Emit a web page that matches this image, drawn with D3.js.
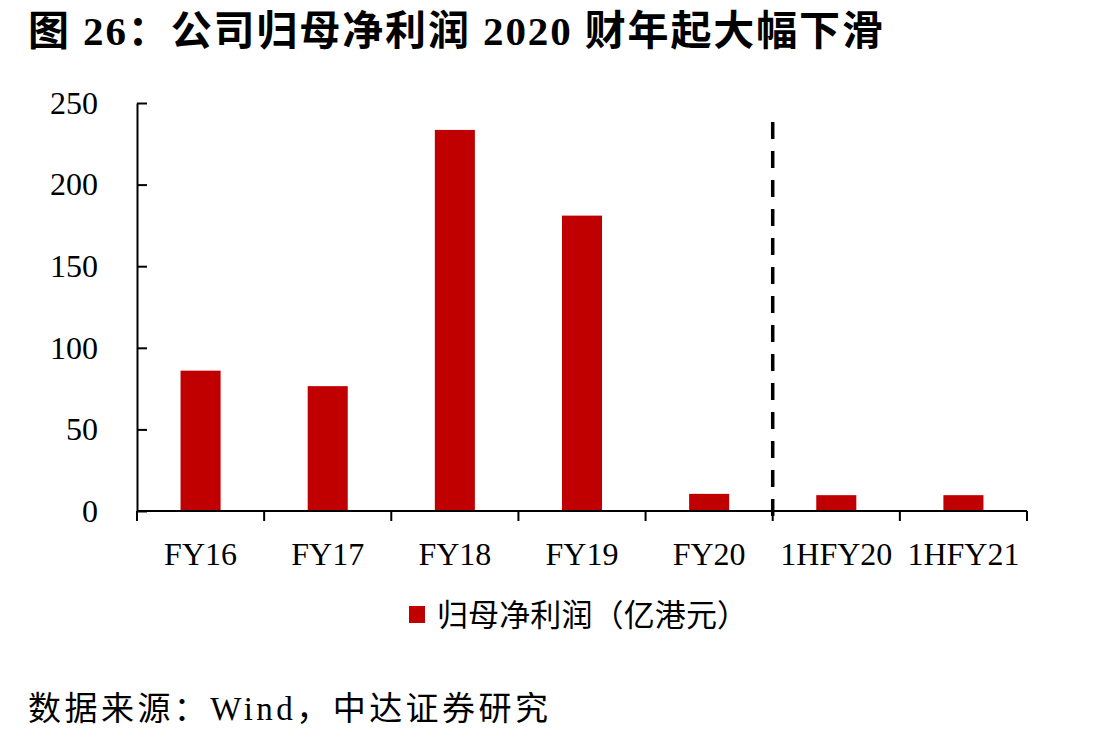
<!DOCTYPE html>
<html>
<head>
<meta charset="utf-8">
<script src="https://cdn.jsdelivr.net/npm/d3@7"></script>
<style>
	body { margin: 0; background: #fff; }
	svg { display: block; }
	.serif { font-family: "Liberation Serif", "Noto Sans CJK SC", serif; }
</style>
</head>
<body>
<svg id="canvas" width="1110" height="739"></svg>
<script>
// data
const categories = ["FY16", "FY17", "FY18", "FY19", "FY20", "1HFY20", "1HFY21"];
const profit = [86, 76.5, 233.5, 181, 10.5, 9.7, 9.7];
const yTicks = [0, 50, 100, 150, 200, 250];
const seriesName = "归母净利润（亿港元）";
const titleText = "图 26：公司归母净利润 2020 财年起大幅下滑";
const sourceText = "数据来源：Wind，中达证券研究";

const red = "#C00000";

const svg = d3.select("#canvas");

const plotLeft = 137, plotRight = 1027, plotTop = 103, plotBottom = 511;

const y = d3.scaleLinear().domain([0, 250]).range([plotBottom, plotTop]);
const x = d3.scaleBand()
	.domain(categories)
	.range([plotLeft, plotRight])
	.paddingInner(0.685)
	.paddingOuter(0.3425);
const step = x.step();

// title (textLength to match the wider spacing of the original font)
svg.append("text")
	.attr("class", "serif")
	.attr("x", 28)
	.attr("y", 45)
	.attr("font-size", 41)
	.attr("font-weight", "bold")
	.attr("textLength", 855)
	.attr("lengthAdjust", "spacing")
	.text(titleText);

// bars
svg.selectAll(".bar")
	.data(profit)
	.enter().append("rect")
	.attr("class", "bar")
	.attr("x", (d, i) => x(categories[i]))
	.attr("width", x.bandwidth())
	.attr("y", d => y(d))
	.attr("height", d => y(0) - y(d))
	.attr("fill", red);

// y axis, ticks pointing inward
const yAxis = svg.append("g")
	.attr("transform", "translate(" + plotLeft + ",0)")
	.call(d3.axisLeft(y).tickValues(yTicks).tickSize(-10).tickSizeOuter(0).tickPadding(39));
yAxis.selectAll("line").attr("stroke", "#000").attr("stroke-width", 2);
yAxis.select(".domain").attr("stroke", "#000").attr("stroke-width", 2);
yAxis.selectAll("text")
	.attr("class", "serif")
	.attr("font-size", 32)
	.attr("fill", "#000");

// x axis line + boundary ticks
svg.append("line")
	.attr("x1", plotLeft).attr("x2", plotRight)
	.attr("y1", y(0)).attr("y2", y(0))
	.attr("stroke", "#000").attr("stroke-width", 2);

svg.selectAll(".xtick")
	.data(d3.range(categories.length + 1))
	.enter().append("line")
	.attr("class", "xtick")
	.attr("x1", i => plotLeft + i * step).attr("x2", i => plotLeft + i * step)
	.attr("y1", y(0)).attr("y2", y(0) + 10)
	.attr("stroke", "#000").attr("stroke-width", 2);

svg.selectAll(".xlabel")
	.data(categories)
	.enter().append("text")
	.attr("class", "serif xlabel")
	.attr("x", d => x(d) + x.bandwidth() / 2)
	.attr("y", 565)
	.attr("text-anchor", "middle")
	.attr("font-size", 32)
	.text(d => d);

// dashed separator between annual and half-year figures
const sepX = plotLeft + categories.indexOf("1HFY20") * step;
svg.append("line")
	.attr("x1", sepX).attr("x2", sepX)
	.attr("y1", 122).attr("y2", 520)
	.attr("stroke", "#000")
	.attr("stroke-width", 3.5)
	.attr("stroke-dasharray", "17,12");

// legend
svg.append("rect")
	.attr("x", 409).attr("y", 606)
	.attr("width", 16).attr("height", 17)
	.attr("fill", red);
svg.append("text")
	.attr("class", "serif")
	.attr("x", 437)
	.attr("y", 626)
	.attr("font-size", 31)
	.attr("textLength", 311)
	.attr("lengthAdjust", "spacing")
	.text(seriesName);

// source note
svg.append("text")
	.attr("class", "serif")
	.attr("x", 28)
	.attr("y", 720)
	.attr("font-size", 33)
	.attr("textLength", 520)
	.attr("lengthAdjust", "spacing")
	.text(sourceText);
</script>
</body>
</html>
